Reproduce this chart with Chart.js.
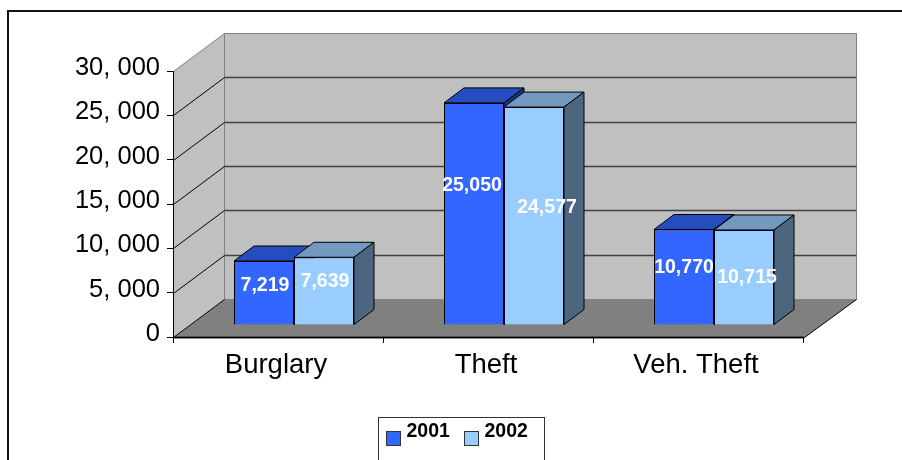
<!DOCTYPE html>
<html>
<head>
<meta charset="utf-8">
<title>Burglary and theft 2001-2002</title>
<script src="https://cdn.jsdelivr.net/npm/chart.js@4"></script>
<style>
  html, body { margin: 0; padding: 0; background: #fff; overflow: hidden; }
  canvas { display: block; }
</style>
</head>
<body>
<canvas id="graph" width="902" height="460"></canvas>
<script>
var categories = ["Burglary", "Theft", "Veh. Theft"];
var seriesNames = ["2001", "2002"];
var values2001 = [7219, 25050, 10770];
var values2002 = [7639, 24577, 10715];
var yTickLabels = ["0", "5, 000", "10, 000", "15, 000", "20, 000", "25, 000", "30, 000"];

var FONT = '"Liberation Sans", Arial, sans-serif';
var colors = ["#3366FF", "#99CCFF"];
var topColors = ["#264DBF", "#7399BF"];
var sideColors = ["#1A3380", "#4C6680"];

// how far the box floor and the bars sit back in the fake 3D view
var wallDepth = {x: 51, y: -38};
var barShift = {x: 16, y: -12};
var barDepth = {x: 20, y: -15};

// labels were moved by hand in the original, [dx, dy] from the bar centre
var labelNudge = [
  [[1, -7], [-2, -28], [0, -9]],
  [[1, -9.5], [13, -8], [3, 0]]
];

function poly(ctx, pts, fill, stroke, width) {
  ctx.beginPath();
  ctx.moveTo(pts[0][0], pts[0][1]);
  for (var i = 1; i < pts.length; i++) ctx.lineTo(pts[i][0], pts[i][1]);
  ctx.closePath();
  if (fill) { ctx.fillStyle = fill; ctx.fill(); }
  if (stroke) { ctx.strokeStyle = stroke; ctx.lineWidth = width || 1; ctx.stroke(); }
}

function line(ctx, x1, y1, x2, y2, color, width) {
  ctx.beginPath();
  ctx.moveTo(x1, y1);
  ctx.lineTo(x2, y2);
  ctx.strokeStyle = color;
  ctx.lineWidth = width || 1;
  ctx.stroke();
}

var box3d = {
  id: "box3d",
  beforeDraw: function (chart) {
    var ctx = chart.ctx, a = chart.chartArea, y = chart.scales.y;
    var l = a.left + 0.5, r = a.right + 1.5, t = a.top + 0.5, b = a.bottom + 0.5;
    var dx = wallDepth.x, dy = wallDepth.y;
    ctx.save();
    // outer frame runs off the right and bottom of the page
    line(ctx, 8, 460, 8, 10, "#111", 2);
    line(ctx, 7, 11, 902, 11, "#111", 2);
    // walls and floor
    poly(ctx, [[l, t], [l + dx, t + dy], [l + dx, b + dy], [l, b]], "#C0C0C0");
    poly(ctx, [[l + dx, t + dy], [r + dx + 1, t + dy], [r + dx + 1, b + dy], [l + dx, b + dy]], "#C0C0C0", "#808080");
    poly(ctx, [[l, b], [l + dx, b + dy], [r + dx + 1, b + dy], [r, b]], "#808080");
    line(ctx, l, t, l + dx, t + dy, "#808080");
    line(ctx, l + dx, t + dy, l + dx, b + dy, "#808080");
    y.ticks.forEach(function (tick) {
      var py = Math.round(y.getPixelForValue(tick.value)) + 0.5;
      if (tick.value > 0 && tick.value < y.max) {
        line(ctx, l, py, l + dx, py + dy, "#000");
        line(ctx, l + dx, py + dy, r + dx + 1, py + dy, "#404040", 1.5);
      }
    });
    line(ctx, l, b, l + dx, b + dy, "#000");
    line(ctx, r, b, r + dx + 1, b + dy, "#000");
    line(ctx, l, b, r, b, "#202020", 2);
    ctx.restore();
  },
  beforeDatasetsDraw: function (chart) {
    // tops and sides first, 2001 behind 2002, then the library paints the fronts
    var ctx = chart.ctx;
    ctx.save();
    ctx.translate(barShift.x, barShift.y);
    chart.data.datasets.forEach(function (ds, i) {
      chart.getDatasetMeta(i).data.forEach(function (bar) {
        var x1 = bar.x - bar.width / 2, x2 = bar.x + bar.width / 2;
        var dx = barDepth.x, dy = barDepth.y;
        poly(ctx, [[x1, bar.y], [x1 + dx, bar.y + dy], [x2 + dx, bar.y + dy], [x2, bar.y]], topColors[i], "#000");
        poly(ctx, [[x2, bar.y], [x2 + dx, bar.y + dy], [x2 + dx, bar.base + dy], [x2, bar.base]], sideColors[i], "#000");
      });
    });
  },
  afterDatasetsDraw: function (chart) {
    var ctx = chart.ctx;
    ctx.restore();
    ctx.save();
    ctx.font = "bold 19.5px " + FONT;
    ctx.fillStyle = "#fff";
    ctx.textAlign = "center";
    ctx.textBaseline = "middle";
    chart.data.datasets.forEach(function (ds, i) {
      chart.getDatasetMeta(i).data.forEach(function (bar, k) {
        var nudge = labelNudge[i][k];
        var text = ds.data[k].toLocaleString("en-US");
        ctx.fillText(text, bar.x + barShift.x + nudge[0], (bar.y + bar.base) / 2 + barShift.y + nudge[1]);
      });
    });
    // legend box, cut off by the bottom of the page like the original
    ctx.fillStyle = "#fff";
    ctx.fillRect(378.5, 417.5, 166, 50);
    ctx.strokeStyle = "#333";
    ctx.lineWidth = 1;
    ctx.strokeRect(378.5, 417.5, 166, 50);
    ctx.font = "bold 19.5px " + FONT;
    ctx.textAlign = "left";
    chart.data.datasets.forEach(function (ds, i) {
      var x = 386.5 + i * 78;
      ctx.fillStyle = colors[i];
      ctx.fillRect(x, 431.5, 14, 14);
      ctx.strokeStyle = "#333";
      ctx.strokeRect(x, 431.5, 14, 14);
      ctx.fillStyle = "#000";
      ctx.fillText(ds.label, x + 20, 432);
    });
    ctx.restore();
  }
};

new Chart("graph", {
  type: "bar",
  data: {
    labels: categories,
    datasets: [
      {label: seriesNames[0], data: values2001, backgroundColor: colors[0]},
      {label: seriesNames[1], data: values2002, backgroundColor: colors[1]}
    ]
  },
  options: {
    responsive: false,
    animation: false,
    layout: {autoPadding: false, padding: {left: 0, top: 71, right: 99, bottom: 0}},
    datasets: {
      bar: {
        categoryPercentage: 120 / 210,
        barPercentage: 1,
        borderColor: "#000",
        borderWidth: 1,
        clip: false
      }
    },
    plugins: {
      legend: {display: false},
      title: {display: false},
      tooltip: {enabled: false}
    },
    scales: {
      x: {
        afterFit: function (s) { s.height = 123; },
        grid: {drawOnChartArea: false, drawTicks: true, tickLength: 6, color: "#000"},
        border: {display: true, color: "#000"},
        ticks: {
          color: "#000",
          padding: 6,
          maxRotation: 0,
          labelOffset: -2,
          font: {family: FONT, size: 27.5}
        }
      },
      y: {
        min: 0,
        max: 30000,
        afterFit: function (s) { s.width = 173; },
        grid: {drawOnChartArea: false, drawTicks: true, tickLength: 6, color: "#000"},
        border: {display: true, color: "#000"},
        ticks: {
          stepSize: 5000,
          color: "#000",
          padding: 7,
          labelOffset: -3,
          font: {family: FONT, size: 25.5},
          callback: function (value, i) { return yTickLabels[i]; }
        }
      }
    }
  },
  plugins: [box3d]
});
</script>
</body>
</html>
